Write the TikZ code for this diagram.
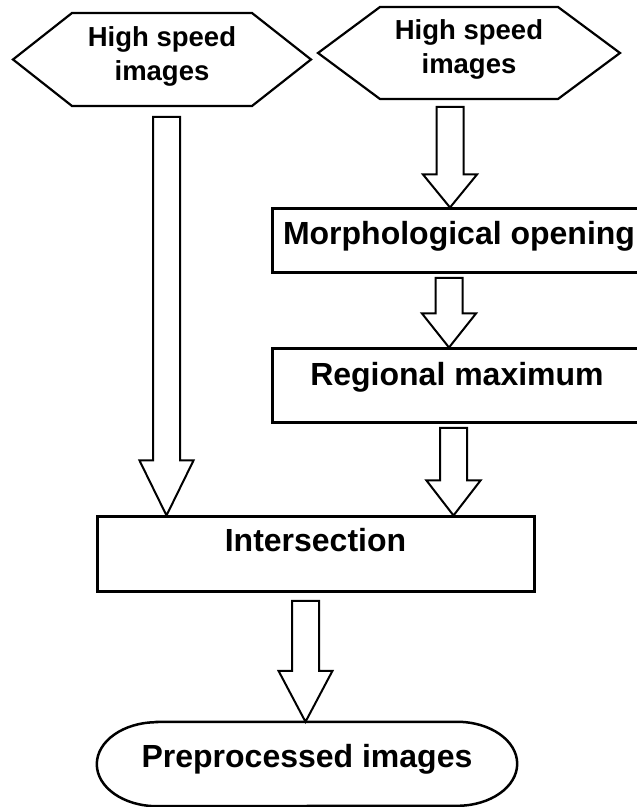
\documentclass[tikz,border=0pt]{standalone}
\usepackage{fontspec}
\setmainfont{Liberation Sans}
\usetikzlibrary{calc}
\begin{document}
\begin{tikzpicture}[x=1pt,y=1pt,
  boxnode/.style={draw, line width=3pt, inner sep=0pt,
    font=\fontsize{32}{38}\selectfont\bfseries},
  termnode/.style={inner sep=0pt, font=\fontsize{32}{38}\selectfont\bfseries},
  hexnode/.style={inner sep=0pt, align=center,
    font=\fontsize{27.5}{34}\selectfont\bfseries},
  hexline/.style={line width=2.2pt, line join=miter},
  termline/.style={line width=2.5pt},
  blockarrow/.style={line width=2pt, fill=white,
    to path={let \p1=(\tikztostart), \p2=(\tikztotarget) in
      (\x1-13.5pt,\y1) -- (\x1+13.5pt,\y1) -- (\x1+13.5pt,\y2+#1pt)
      -- (\x1+27pt,\y2+#1pt) -- (\x2,\y2) -- (\x1-27pt,\y2+#1pt)
      -- (\x1-13.5pt,\y2+#1pt) -- cycle}},
  blockarrow/.default=34]
\useasboundingbox (0,0) rectangle (637,807);

% hexagon outline around a text node: node, half width, half height, corner inset;
% the outline sits 3.5pt below the text centre
\newcommand\hexoutline[4]{%
  \draw[hexline] ($(#1)+(-#2,-3.5)$) -- ($(#1)+(-#2+#4,#3-3.5)$)
    -- ($(#1)+(#2-#4,#3-3.5)$) -- ($(#1)+(#2,-3.5)$)
    -- ($(#1)+(#2-#4,-#3-3.5)$) -- ($(#1)+(-#2+#4,-#3-3.5)$) -- cycle;}

% input hexagons
\node[hexnode] (hexA) at (162,751) {High speed\\images};
\hexoutline{hexA}{149}{46.5}{59}
\node[hexnode] (hexB) at (469,757.5) {High speed\\images};
\hexoutline{hexB}{151}{46}{62}

% processing boxes
\node[boxnode, minimum width=374pt, text height=36pt, text depth=28pt]
  (morph) at (459,566) {Morphological opening};
\node[boxnode, minimum width=370pt, text height=37pt, text depth=37pt]
  (regmax) at (457,421) {Regional maximum};
\node[boxnode, minimum width=437pt, text height=35pt, text depth=40pt]
  (inter) at (315.5,252.5) {Intersection};

% output terminator
\node[termnode, minimum width=420pt, text height=46pt, text depth=38pt]
  (out) at (307,43) {Preprocessed images};
\draw[termline] ([xshift=60pt]out.north west) -- ([xshift=-60pt]out.north east)
  arc[start angle=90, end angle=-90, x radius=60pt, y radius=42pt]
  -- ([xshift=60pt]out.south west)
  arc[start angle=270, end angle=90, x radius=60pt, y radius=42pt] -- cycle;

% block arrows
\coordinate (t1) at (166.5,690);
\coordinate (t2) at (450,700);
\coordinate (t3) at (449,529);
\coordinate (t4) at (453.5,379);
\coordinate (t5) at (305.5,206);
\draw[blockarrow=55] (t1) to (t1 |- inter.north);
\draw[blockarrow=33] (t2) to (t2 |- morph.north);
\draw[blockarrow=34] (t3) to (t3 |- regmax.north);
\draw[blockarrow=35] (t4) to (t4 |- inter.north);
\draw[blockarrow=51] (t5) to (t5 |- out.north);
\end{tikzpicture}
\end{document}
